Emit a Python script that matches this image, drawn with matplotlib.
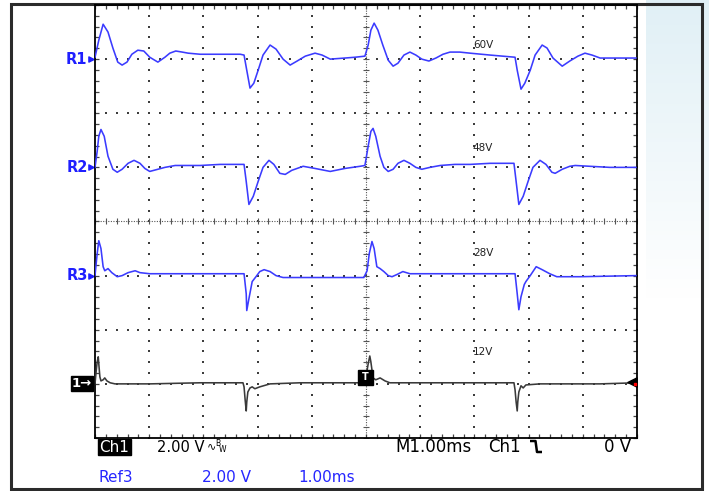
import numpy as np
import matplotlib
matplotlib.use("Agg")
import matplotlib.pyplot as plt
from matplotlib.patches import Rectangle
from matplotlib.ticker import MultipleLocator

# ---------------- data (time in ms, voltage in V relative to each trace's ref marker) -------------
ms_per_div = 1.0
volts_per_div = 2.0
n_xdiv, n_ydiv = 10, 8

r1_t = [0, 0.07, 0.15, 0.24, 0.33, 0.42, 0.50, 0.59, 0.68, 0.79, 0.90, 1.01, 1.16, 1.29, 1.38,
        1.49, 1.61, 1.72, 1.94, 2.31, 2.68, 2.75, 2.80, 2.86, 2.93, 3.01, 3.10, 3.23, 3.34, 3.47,
        3.60, 3.73, 3.88, 4.06, 4.19, 4.34, 4.61, 4.80, 4.98, 5.04, 5.09, 5.15, 5.22, 5.31, 5.41,
        5.50, 5.59, 5.70, 5.81, 5.92, 6.03, 6.16, 6.29, 6.42, 6.55, 6.73, 6.92, 7.29, 7.75, 7.79,
        7.86, 7.93, 8.03, 8.12, 8.25, 8.34, 8.45, 8.62, 8.76, 8.91, 9.04, 9.17, 9.32, 9.59, 9.98]
r1_v = [0.07, 0.70, 1.29, 1.00, 0.41, -0.11, -0.22, -0.11, 0.18, 0.33, 0.30, 0.07, -0.11, 0.07, 0.22,
        0.30, 0.26, 0.22, 0.18, 0.18, 0.18, 0.15, -0.41, -1.07, -0.89, -0.41, 0.15, 0.52, 0.37, 0.0,
        -0.22, -0.07, 0.11, 0.22, 0.15, 0.0, 0.04, 0.07, 0.11, 0.52, 1.07, 1.33, 1.07, 0.52, -0.04,
        -0.26, -0.15, 0.15, 0.26, 0.15, 0.0, -0.07, 0.04, 0.18, 0.26, 0.26, 0.22, 0.15, 0.07, -0.41,
        -1.11, -0.89, -0.41, 0.15, 0.52, 0.41, 0.04, -0.26, -0.07, 0.11, 0.22, 0.15, 0.04, 0.04, 0.04]

r2_t = [0, 0.04, 0.07, 0.11, 0.17, 0.24, 0.33, 0.41, 0.50, 0.61, 0.72, 0.83, 0.92, 1.01, 1.16,
        1.29, 1.48, 1.94, 2.31, 2.68, 2.75, 2.79, 2.84, 2.92, 3.01, 3.10, 3.21, 3.30, 3.41, 3.51,
        3.63, 3.84, 4.06, 4.34, 4.61, 4.89, 4.98, 5.04, 5.09, 5.13, 5.18, 5.26, 5.33, 5.41, 5.50,
        5.59, 5.70, 5.81, 5.92, 6.03, 6.18, 6.37, 6.64, 6.92, 7.29, 7.73, 7.77, 7.82, 7.90, 7.99,
        8.08, 8.21, 8.32, 8.43, 8.49, 8.62, 8.76, 8.86, 9.13, 9.50, 9.98]
r2_v = [0.0, 0.59, 1.15, 1.40, 1.15, 0.41, -0.07, -0.18, -0.07, 0.15, 0.26, 0.15, -0.04, -0.15, -0.07,
        0.0, 0.07, 0.07, 0.11, 0.11, 0.11, -0.52, -1.37, -1.07, -0.52, 0.0, 0.26, 0.11, -0.22, -0.26,
        -0.11, 0.04, -0.04, -0.15, -0.04, 0.04, 0.07, 0.78, 1.33, 1.44, 1.15, 0.41, 0.0, -0.15, -0.07,
        0.15, 0.26, 0.15, 0.0, -0.07, 0.0, 0.07, 0.11, 0.11, 0.15, 0.15, -0.52, -1.37, -1.07, -0.52,
        0.0, 0.26, 0.11, -0.18, -0.22, -0.07, 0.04, 0.07, 0.04, 0.0, 0.0]

r3_t = [0, 0.04, 0.07, 0.11, 0.15, 0.18, 0.24, 0.31, 0.41, 0.50, 0.61, 0.74, 0.83, 1.01, 1.94,
        2.75, 2.79, 2.80, 2.84, 2.90, 2.97, 3.04, 3.12, 3.23, 3.34, 3.47, 3.78, 4.34, 4.96, 5.02,
        5.06, 5.11, 5.15, 5.20, 5.26, 5.33, 5.41, 5.48, 5.57, 5.68, 5.81, 6.18, 6.92, 7.75, 7.79,
        7.82, 7.86, 7.92, 7.95, 8.03, 8.14, 8.25, 8.39, 8.52, 8.95, 9.98]
r3_v = [0.0, 0.81, 1.29, 1.00, 0.33, 0.18, 0.26, 0.11, -0.04, 0.0, 0.11, 0.18, 0.11, 0.07, 0.07,
        0.07, -0.67, -1.29, -0.85, -0.22, -0.04, 0.15, 0.22, 0.15, 0.0, -0.07, -0.07, -0.07, -0.07, 0.18,
        0.81, 1.26, 1.00, 0.33, 0.26, 0.15, 0.0, -0.04, 0.04, 0.15, 0.07, 0.07, 0.07, 0.07, -0.67,
        -1.26, -0.78, -0.33, -0.22, 0.0, 0.33, 0.22, 0.07, -0.04, -0.04, 0.0]

ch1_t = [0, 0.02, 0.04, 0.06, 0.07, 0.09, 0.11, 0.15, 0.18, 0.22, 0.28, 0.37, 1.01, 1.94, 2.73,
         2.75, 2.77, 2.79, 2.80, 2.82, 2.86, 2.90, 2.95, 3.04, 3.23, 3.78, 4.96, 5.00, 5.04, 5.07,
         5.09, 5.13, 5.18, 5.26, 5.35, 5.44, 5.63, 6.55, 7.73, 7.75, 7.77, 7.79, 7.80, 7.82, 7.86,
         7.90, 7.95, 8.21, 9.32, 9.98]
ch1_v = [0.0, 0.44, 0.81, 1.00, 0.74, 0.26, 0.11, 0.15, 0.22, 0.11, 0.04, 0.0, 0.0, 0.04, 0.04,
         -0.11, -0.59, -1.00, -0.67, -0.30, -0.15, -0.11, -0.18, -0.11, 0.0, 0.04, 0.04, 0.26, 0.74, 1.03,
         0.81, 0.22, 0.15, 0.22, 0.11, 0.04, 0.04, 0.04, 0.04, -0.22, -0.67, -1.00, -0.67, -0.30, -0.07,
         -0.15, -0.04, 0.0, 0.0, 0.04]

trace_names = ["R1", "R2", "R3", "1"]
trace_offsets = [6.0, 2.0, -2.0, -6.0]          # volts on screen (ref marker positions)
trace_supply = ["60V", "48V", "28V", "12V"]
trace_colors = ["#3b3bff", "#3b3bff", "#3b3bff", "#3a3a3a"]
traces = [(r1_t, r1_v), (r2_t, r2_v), (r3_t, r3_v), (ch1_t, ch1_v)]

W, H = 709, 491
fig = plt.figure(figsize=(W / 100, H / 100), dpi=100)
fig.patch.set_facecolor("white")

# ---------------- background / decoration axes in pixel coordinates ----------------
bg = fig.add_axes([0, 0, 1, 1])
bg.set_xlim(0, W)
bg.set_ylim(H, 0)
bg.axis("off")

# light blue texture at right
grad = np.ones((300, 1, 4))
grad[:, 0, 0] = 0.86
grad[:, 0, 1] = 0.93
grad[:, 0, 2] = 0.96
grad[:, 0, 3] = np.linspace(0.85, 0.0, 300)
bg.imshow(grad, extent=(646, W, 300, 0), aspect="auto", zorder=0, interpolation="bilinear")

# outer frame
bg.add_patch(Rectangle((10.5, 3.5), 691, 485, fill=False, edgecolor="#2b2b2b", lw=2.2, zorder=5))

# ---------------- graticule axes ----------------
gx0, gx1, gy0, gy1 = 95, 637, 5, 438
ax = fig.add_axes([gx0 / W, 1 - gy1 / H, (gx1 - gx0) / W, (gy1 - gy0) / H])
ax.set_xlim(0, n_xdiv * ms_per_div)
ax.set_ylim(-n_ydiv / 2 * volts_per_div, n_ydiv / 2 * volts_per_div)
ax.set_facecolor("none")
for s in ax.spines.values():
    s.set_color("black")
    s.set_linewidth(1.3)
ax.xaxis.set_major_locator(MultipleLocator(ms_per_div))
ax.xaxis.set_minor_locator(MultipleLocator(ms_per_div / 5))
ax.yaxis.set_major_locator(MultipleLocator(volts_per_div))
ax.yaxis.set_minor_locator(MultipleLocator(volts_per_div / 5))
ax.tick_params(which="both", direction="in", top=True, right=True, bottom=True, left=True,
               labelbottom=False, labelleft=False, color="#444444", width=0.9)
ax.tick_params(which="major", length=3)
ax.tick_params(which="minor", length=3)

xmin, xmax = ax.get_xlim()
ymin, ymax = ax.get_ylim()
xc, yc = (xmin + xmax) / 2, (ymin + ymax) / 2
xs_minor = np.arange(xmin, xmax + 1e-9, ms_per_div / 5)
ys_minor = np.arange(ymin, ymax + 1e-9, volts_per_div / 5)
dot_kw = dict(marker="s", s=1.3, color="#3c3c3c", linewidths=0, zorder=1)
for k in range(1, n_xdiv):
    xk = xmin + k * ms_per_div
    if abs(xk - xc) < 1e-9:
        continue
    ax.scatter(np.full_like(ys_minor, xk), ys_minor, **dot_kw)
for k in range(1, n_ydiv):
    yk = ymin + k * volts_per_div
    if abs(yk - yc) < 1e-9:
        continue
    ax.scatter(xs_minor, np.full_like(xs_minor, yk), **dot_kw)
# center cross: dense dotted lines with ticks
ax.plot([xc, xc], [ymin, ymax], ls=(0, (1, 1.3)), lw=0.8, color="#555555", zorder=1)
ax.plot([xmin, xmax], [yc, yc], ls=(0, (1, 1.3)), lw=0.8, color="#555555", zorder=1)
ax.scatter(np.full_like(ys_minor, xc), ys_minor, marker="_", s=14, color="#555555", linewidths=0.8, zorder=1)
ax.scatter(xs_minor, np.full_like(xs_minor, yc), marker="|", s=14, color="#555555", linewidths=0.8, zorder=1)

# traces
for (t, v), off, col in zip(traces, trace_offsets, trace_colors):
    ax.plot(t, np.array(v) + off, color=col, lw=1.15, zorder=4, solid_joinstyle="round")

# supply labels inside graticule
label_y = [6.52, 2.72, -1.16, -4.82]
for txt, yv in zip(trace_supply, label_y):
    ax.text(6.97, yv, txt, fontsize=7.5, family=["Liberation Sans Narrow", "DejaVu Sans"],
            color="#222222", va="center", ha="left", zorder=5)

# trigger marker box at center top of Ch1 and right-edge trigger-level arrow
ax.add_patch(Rectangle((4.85, trace_offsets[3] - 0.05), 0.27, 0.58, color="black", zorder=6, clip_on=False))
ax.text(4.985, trace_offsets[3] + 0.24, "T", color="white", fontsize=7, fontweight="bold",
        ha="center", va="center", zorder=7)
ax.scatter([9.9], [trace_offsets[3] + 0.08], marker="<", s=45, color="black", zorder=6, clip_on=False)
ax.scatter([9.97], [trace_offsets[3] + 0.0], marker="s", s=2, color="red", zorder=7, clip_on=False)

# ---------------- left reference labels ----------------
def px_y(volt):
    return gy1 - (volt - ymin) / (ymax - ymin) * (gy1 - gy0)

for name, off, col in zip(trace_names[:3], trace_offsets[:3], trace_colors[:3]):
    yp = px_y(off)
    bg.text(87.5, yp, name, color="#1f1fff", fontsize=10.5, fontweight="bold",
            ha="right", va="center", zorder=6)
    bg.scatter([91], [yp], marker=">", s=14, color="#1f1fff", zorder=6)

yp = px_y(trace_offsets[3])
bg.add_patch(Rectangle((71, yp - 7.5), 22, 15, color="black", zorder=6))
bg.text(82, yp, "1\u2192", color="white", fontsize=9.5, fontweight="bold",
        ha="center", va="center", zorder=7)

# ---------------- bottom status lines ----------------
bg.add_patch(Rectangle((98, 439), 33, 16, color="black", zorder=6))
bg.text(114.5, 447, "Ch1", color="white", fontsize=11, ha="center", va="center", zorder=7)
bg.text(157, 447, "2.00 V", color="black", fontsize=10.5, ha="left", va="center", zorder=6)
bg.text(207, 446, "\u223f", color="black", fontsize=8, ha="left", va="center", zorder=6)
bg.text(215, 443, "B", color="black", fontsize=5.5, ha="left", va="center", zorder=6)
bg.text(219, 449, "W", color="black", fontsize=5.5, ha="left", va="center", zorder=6)

bg.text(395, 447, "M1.00ms", color="black", fontsize=12, ha="left", va="center", zorder=6)
bg.text(488, 447, "Ch1", color="black", fontsize=12, ha="left", va="center", zorder=6)
bg.plot([530, 535.5, 537, 542], [441, 441, 452, 452], color="black", lw=1.8, zorder=6,
        solid_capstyle="butt")
bg.text(631, 447, "0 V", color="black", fontsize=12, ha="right", va="center", zorder=6)

blue_txt = "#2626ff"
bg.text(99, 478, "Ref3", color=blue_txt, fontsize=11, ha="left", va="center", zorder=6)
bg.text(202, 478, "2.00 V", color=blue_txt, fontsize=11, ha="left", va="center", zorder=6)
bg.text(298, 478, "1.00ms", color=blue_txt, fontsize=11, ha="left", va="center", zorder=6)

fig.savefig("out.png", dpi=100, facecolor="white")
